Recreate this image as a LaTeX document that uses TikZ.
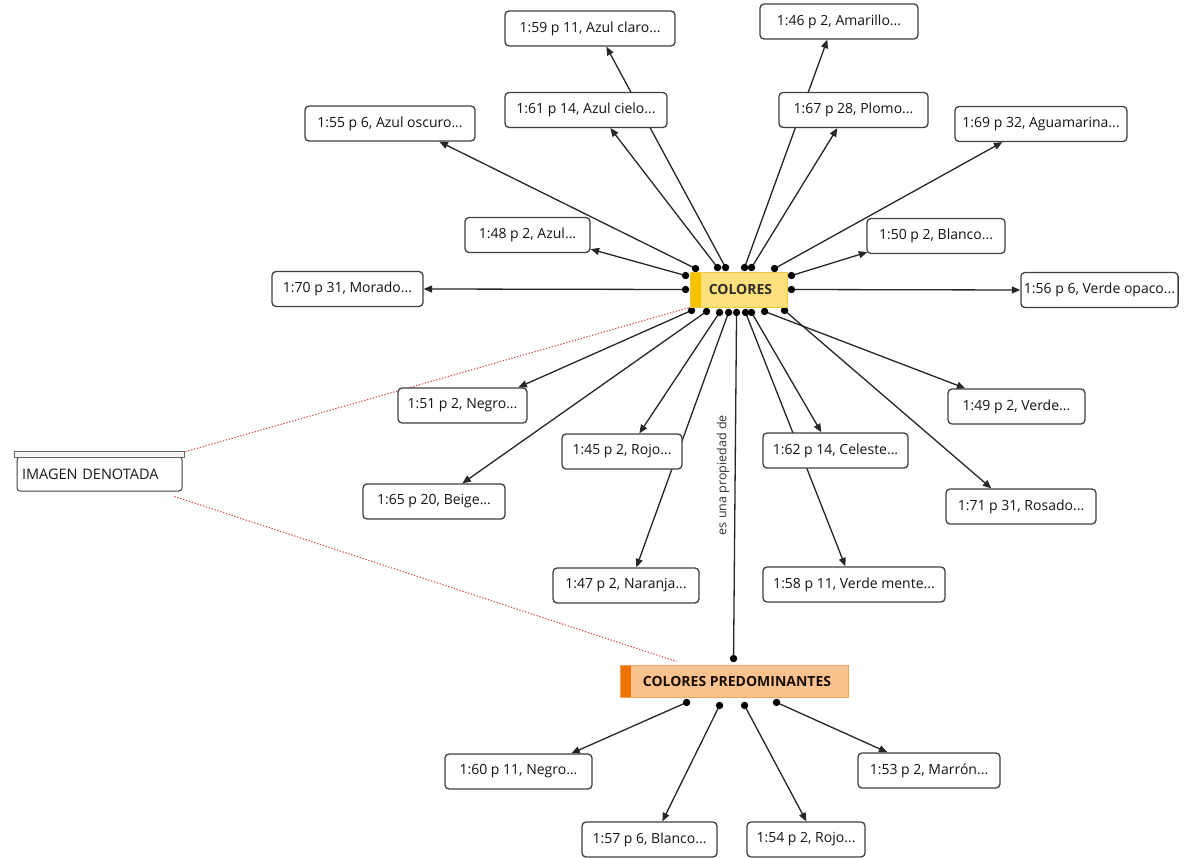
\documentclass[tikz,border=0pt]{standalone}
\usepackage{fontspec}
\setmainfont{Open Sans}
\usetikzlibrary{arrows.meta,calc,backgrounds}

\definecolor{linkgray}{HTML}{262626}
\definecolor{boxgray}{HTML}{404040}
\definecolor{codeyellow}{HTML}{FCE07C}
\definecolor{codeyellowdark}{HTML}{F7C200}
\definecolor{codeyellowline}{HTML}{EFC54A}
\definecolor{codeorange}{HTML}{F9C28F}
\definecolor{codeorangedark}{HTML}{EE7300}
\definecolor{codeorangeline}{HTML}{F2A05C}
\definecolor{relred}{HTML}{D2504C}

\tikzset{
  quote/.style={draw=boxgray, line width=1.3pt, rounded corners=4pt, fill=white,
    minimum height=35pt, minimum width=#1, inner xsep=3pt, inner ysep=4pt,
    font=\fontsize{14}{16}\selectfont, text=black!92},
  code/.style 2 args={draw=#2, line width=0.9pt, fill=#1, minimum height=33pt,
    inner xsep=3pt, font=\fontsize{14}{16}\selectfont\bfseries},
  strip/.style={path picture={\fill[#1] (path picture bounding box.north west)
    rectangle ([xshift=11pt]path picture bounding box.south west);}},
  link/.style={draw=linkgray, line width=1.3pt, -{Triangle[length=8.5pt,width=7pt]}},
  plainlink/.style={draw=linkgray, line width=1.3pt},
  relation/.style={draw=relred, line width=1.1pt, dash pattern=on 1.3pt off 1.7pt},
}
% a link starting from a port dot on a code box
\newcommand\portlink[2]{\draw[link] #1 -- #2; \fill[black] #1 circle (3.7pt);}

\begin{document}
\begin{tikzpicture}[x=1pt, y=-1pt]
\useasboundingbox (0,0) rectangle (1196,858);

% codes
\node[code={codeyellow}{codeyellowline}, strip=codeyellowdark, minimum width=97pt,
      minimum height=35pt, text=black!85!yellow!40!black] (col) at (738.5,289.5) {\hspace{4pt}COLORES};
\node[code={codeorange}{codeorangeline}, strip=codeorangedark, minimum width=228pt,
      minimum height=32pt, text=black!80!orange!50!black] (cp) at (734,681) {\hspace{6pt}COLORES PREDOMINANTES};

% quotations linked to COLORES
\node[quote=170pt] (n59) at (590,28.5)   {1:59 p 11, Azul claro...};
\node[quote=158pt] (n46) at (839,21.5)   {1:46 p 2, Amarillo...};
\node[quote=162pt] (n61) at (586,110)    {1:61 p 14, Azul cielo...};
\node[quote=149pt] (n67) at (853.5,110)  {1:67 p 28, Plomo...};
\node[quote=170pt] (n55) at (390,123.5)  {1:55 p 6, Azul oscuro...};
\node[quote=172pt] (n69) at (1041,124)   {1:69 p 32, Aguamarina...};
\node[quote=125pt] (n48) at (527.5,235)  {1:48 p 2, Azul...};
\node[quote=138pt] (n50) at (936,236)    {1:50 p 2, Blanco...};
\node[quote=151pt] (n70) at (347.5,289)  {1:70 p 31, Morado...};
\node[quote=149pt] (n56) at (1099.5,290) {1:56 p 6, Verde opaco...};
\node[quote=129pt] (n51) at (462.5,405.5){1:51 p 2, Negro...};
\node[quote=137pt] (n49) at (1016.5,406.5){1:49 p 2, Verde...};
\node[quote=120pt] (n45) at (622,451.5)  {1:45 p 2, Rojo...};
\node[quote=145pt] (n62) at (835.5,450.5){1:62 p 14, Celeste...};
\node[quote=142pt] (n65) at (434,501.5)  {1:65 p 20, Beige...};
\node[quote=150pt] (n71) at (1021,506.5) {1:71 p 31, Rosado...};
\node[quote=146pt] (n47) at (626,585.5)  {1:47 p 2, Naranja...};
\node[quote=182pt] (n58) at (854,584.5)  {1:58 p 11, Verde mente...};

% quotations linked to COLORES PREDOMINANTES
\node[quote=147pt] (n60) at (518.5,771.5){1:60 p 11, Negro...};
\node[quote=142pt] (n53) at (929,770.5)  {1:53 p 2, Marrón...};
\node[quote=135pt] (n57) at (649.5,839.5){1:57 p 6, Blanco...};
\node[quote=118pt] (n54) at (806,839.5)  {1:54 p 2, Rojo...};

% network view
\node[draw=boxgray, line width=1pt, rounded corners=3pt, fill=white, minimum width=165pt,
      minimum height=34pt, inner xsep=5pt, text width=155pt, align=left,
      font=\fontsize{14.5}{16}\selectfont, text=black!90] (img) at (99.5,474) {IMAGEN DENOTADA};
\draw[draw=boxgray!80, line width=0.9pt, fill=black!4]
  ($(img.north west)+(-2,-5)$) rectangle ($(img.north east)+(2,1)$);

\begin{scope}[on background layer]
  \fill[white] (0,0) rectangle (1196,858);
  % COLORES, upper side
  \portlink{($(col.north west)+(6,-3)$)}{($(n55.south west)+(135,0)$)}
  \portlink{($(col.north west)+(28,-4)$)}{($(n61.south west)+(106,0)$)}
  \portlink{($(col.north west)+(36,-4)$)}{($(n59.south west)+(102,0)$)}
  \portlink{($(col.north west)+(55,-4)$)}{($(n46.south west)+(68,0)$)}
  \portlink{($(col.north west)+(62,-4)$)}{($(n67.south west)+(59,0)$)}
  \portlink{($(col.north west)+(85,-3)$)}{($(n69.south west)+(48,0)$)}
  % COLORES, sides
  \portlink{($(col.north west)+(-4,4)$)}{($(n48.south east)+(0,-4)$)}
  \portlink{($(col.west)+(-4,0)$)}{(n70.east)}
  \portlink{($(col.north east)+(4,4)$)}{($(n50.south west)+(1,-2)$)}
  \portlink{($(col.east)+(4,0)$)}{(n56.west)}
  % COLORES, lower side
  \portlink{($(col.south west)+(2,3)$)}{($(n51.north west)+(121,0)$)}
  \portlink{($(col.south west)+(17,4)$)}{($(n65.north west)+(100,0)$)}
  \portlink{($(col.south west)+(30,5)$)}{($(n45.north west)+(78,0)$)}
  \portlink{($(col.south west)+(39,5)$)}{($(n47.north west)+(84,0)$)}
  \portlink{($(col.south west)+(56,5)$)}{($(n58.north west)+(83,0)$)}
  \portlink{($(col.south west)+(62,5)$)}{($(n62.north west)+(59,0)$)}
  \portlink{($(col.south west)+(75,4)$)}{($(n49.north west)+(18,0)$)}
  \portlink{($(col.south west)+(95,3)$)}{($(n71.north west)+(46,0)$)}

  % relation between the two codes
  \draw[plainlink] ($(col.south west)+(47,5)$) -- ($(cp.north west)+(114,-6)$)
    node[pos=0.47, rotate=90, anchor=south, inner sep=5pt,
         font=\fontsize{12.5}{14}\selectfont, text=black!80] (rel) {es una propiedad de};
  \fill[black] ($(col.south west)+(47,5)$) circle (3.7pt);
  \fill[black] ($(cp.north west)+(114,-6)$) circle (3.7pt);

  % COLORES PREDOMINANTES, lower side
  \portlink{($(cp.south west)+(67,5)$)}{($(n60.north west)+(127,0)$)}
  \portlink{($(cp.south west)+(100,8)$)}{($(n57.north west)+(81,0)$)}
  \portlink{($(cp.south west)+(125,8)$)}{($(n54.north west)+(60,0)$)}
  \portlink{($(cp.south west)+(157,5)$)}{($(n53.north west)+(30,0)$)}

  % network view membership
  \draw[relation] ($(img.north east)+(0,-4)$) -- (col.south west);
  \draw[relation] ($(img.south east)+(-8,5)$) -- ($(cp.north west)+(57,-3)$);
\end{scope}
\end{tikzpicture}
\end{document}
